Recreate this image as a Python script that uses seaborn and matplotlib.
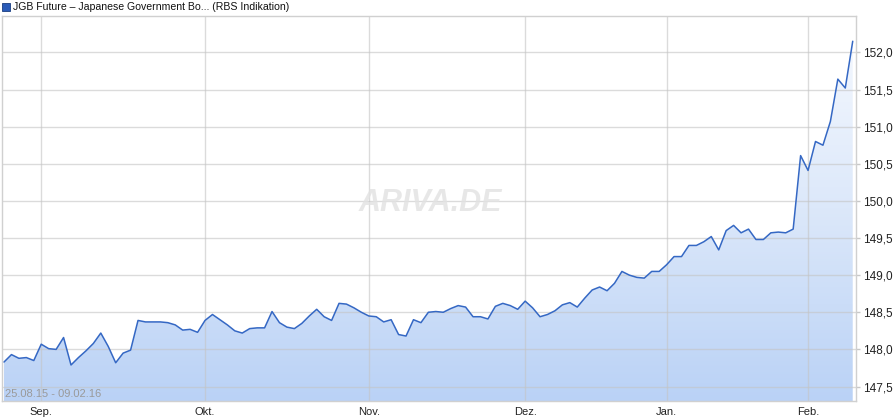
import numpy as np
import pandas as pd
import matplotlib
matplotlib.use("Agg")
import matplotlib.pyplot as plt
from matplotlib.colors import LinearSegmentedColormap
from matplotlib.ticker import FuncFormatter, FixedLocator
import seaborn as sns

# JGB future closing prices, one value per trading day (25.08.15 - 09.02.16)
prices = [
    147.83, 147.93, 147.88, 147.89, 147.85, 148.07, 148.01, 148.00, 148.16, 147.79,
    147.89, 147.98, 148.08, 148.22, 148.04, 147.82, 147.95, 147.99, 148.39, 148.37,
    148.37, 148.37, 148.36, 148.33, 148.26, 148.27, 148.23, 148.39, 148.47, 148.40,
    148.33, 148.25, 148.22, 148.28, 148.29, 148.29, 148.51, 148.36, 148.30, 148.28,
    148.35, 148.45, 148.54, 148.44, 148.39, 148.62, 148.61, 148.56, 148.50, 148.45,
    148.44, 148.37, 148.40, 148.20, 148.18, 148.40, 148.36, 148.50, 148.51, 148.50,
    148.55, 148.59, 148.57, 148.44, 148.44, 148.41, 148.58, 148.62, 148.59, 148.54,
    148.65, 148.56, 148.44, 148.47, 148.52, 148.60, 148.63, 148.57, 148.69, 148.80,
    148.84, 148.79, 148.89, 149.05, 149.00, 148.97, 148.96, 149.05, 149.05, 149.14,
    149.25, 149.25, 149.40, 149.40, 149.45, 149.52, 149.34, 149.60, 149.67, 149.57,
    149.62, 149.48, 149.48, 149.57, 149.58, 149.57, 149.62, 150.61, 150.41, 150.80,
    150.75, 151.07, 151.64, 151.52, 152.15,
]

# first trading day of each month (index into prices)
month_pos = [5, 27, 49, 70, 89, 108]
month_labels = ["Sep.", "Okt.", "Nov.", "Dez.", "Jan.", "Feb."]

y_ticks = [147.5, 148.0, 148.5, 149.0, 149.5, 150.0, 150.5, 151.0, 151.5, 152.0]

title = "JGB Future \u2013 Japanese Government Bo... (RBS Indikation)"
date_range = "25.08.15 - 09.02.16"

df = pd.DataFrame({"day": np.arange(len(prices)), "price": prices})

sns.set_style("white")
plt.rcParams["font.family"] = ["Liberation Sans", "DejaVu Sans"]

fig = plt.figure(figsize=(8.95, 4.17), dpi=100)
ax = fig.add_axes([2 / 895, 16 / 417, 854 / 895, 385 / 417])

xmin, xmax = -0.27, 114.44
ymin, ymax = 147.305, 152.49

# gradient fill under the line (light at top, stronger blue at bottom)
cmap = LinearSegmentedColormap.from_list("fill", ["#f7faff", "#dce8fa", "#bad2f6"])
grad = np.linspace(0, 1, 256).reshape(-1, 1)
poly = ax.fill_between(df["day"], df["price"], ymin, color="none", lw=0)
img = ax.imshow(grad, cmap=cmap, aspect="auto", extent=[xmin, xmax, ymin, ymax],
                origin="upper", zorder=1)
img.set_clip_path(poly.get_paths()[0], transform=ax.transData)
ax.set_xlim(xmin, xmax)
ax.set_ylim(ymin, ymax)

# grid
for p in month_pos:
    ax.axvline(p, color="#c4c4c4", lw=1, alpha=0.6, zorder=2)
for t in y_ticks:
    ax.axhline(t, color="#c4c4c4", lw=1, alpha=0.6, zorder=2)

sns.lineplot(data=df, x="day", y="price", ax=ax, color="#3568c4", lw=1.1, zorder=4)

ax.set_xlabel("")
ax.set_ylabel("")
ax.xaxis.set_major_locator(FixedLocator(month_pos))
ax.set_xticklabels(month_labels)
ax.yaxis.tick_right()
ax.yaxis.set_major_locator(FixedLocator(y_ticks))
ax.yaxis.set_major_formatter(FuncFormatter(lambda v, _: f"{v:.1f}".replace(".", ",")))
ax.tick_params(axis="y", right=True, length=3, width=1, color="#c8c8c8",
               labelsize=8.5, pad=2, labelcolor="#222222")
ax.tick_params(axis="x", bottom=False, labelsize=8, pad=1, labelcolor="#222222")

for s in ax.spines.values():
    s.set_color("#d0d0d0")
    s.set_linewidth(1)

# watermark
ax.text(0.502, 0.514, "ARIVA.DE", transform=ax.transAxes, ha="center", va="center",
        fontsize=22, fontweight="bold", fontstyle="italic", color="#e2e2e2",
        alpha=0.8, zorder=3)

# date range inside plot
ax.text(0.003, 0.017, date_range, transform=ax.transAxes, ha="left", va="center",
        fontsize=8, color="#9a9a9a", zorder=5)

# header legend
fig.patches.append(plt.Rectangle((2 / 895, 1 - 11 / 417), 8 / 895, 8 / 417,
                                 transform=fig.transFigure, facecolor="#2a5bb8",
                                 edgecolor="#1a3d80", lw=0.6))
fig.text(13 / 895, 1 - 7 / 417, title, ha="left", va="center", fontsize=7.6,
         color="#111111")

fig.savefig("out.png", dpi=100)
